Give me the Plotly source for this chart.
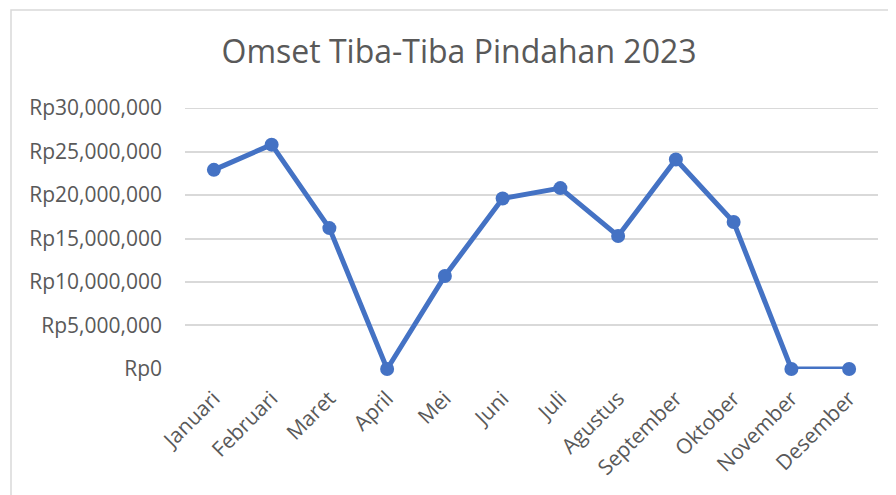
import plotly.graph_objects as go

months = ["Januari", "Februari", "Maret", "April", "Mei", "Juni", "Juli",
          "Agustus", "September", "Oktober", "November", "Desember"]
omset = [22900000, 25800000, 16200000, 0, 10700000, 19600000, 20800000,
         15300000, 24100000, 16900000, 0, 0]
y_ticks = [0, 5000000, 10000000, 15000000, 20000000, 25000000, 30000000]
y_tick_labels = ["Rp0", "Rp5,000,000", "Rp10,000,000", "Rp15,000,000",
                 "Rp20,000,000", "Rp25,000,000", "Rp30,000,000"]

# page has 8px body margin; figure occupies the rest of the 896x495 window
W, H = 888, 487
L, R, T, B = 177, 18, 100, 126
pw, ph = W - L - R, H - T - B

fig = go.Figure()
fig.add_trace(go.Scatter(
    x=months, y=omset, mode="lines+markers",
    line=dict(color="#4472C4", width=5),
    marker=dict(color="#4472C4", size=14),
    cliponaxis=False,
    hoverinfo="skip", showlegend=False,
))

font_family = "'Open Sans', sans-serif"
fig.update_layout(
    width=W, height=H,
    margin=dict(l=L, r=R, t=T, b=B),
    paper_bgcolor="white", plot_bgcolor="white",
    font=dict(family=font_family, color="#595959", size=21),
    title=dict(text="Omset Tiba-Tiba Pindahan 2023", x=(451 - L) / pw, xref="paper",
               xanchor="center", y=1 - 44 / H, yanchor="middle",
               font=dict(size=32, color="#595959", family=font_family)),
    xaxis=dict(type="category", showgrid=False, showline=False, ticks="",
               tickangle=-45, tickfont=dict(size=21, color="#595959"),
               ticklabelstandoff=12,
               range=[-0.5, 11.5], fixedrange=True),
    yaxis=dict(range=[-5000, 30015000], tickvals=y_ticks, ticktext=y_tick_labels,
               showgrid=True, gridcolor="#D9D9D9", gridwidth=1.5,
               zeroline=False, showline=False, ticks="",
               ticklabelstandoff=22,
               tickfont=dict(size=21, color="#595959"), fixedrange=True),
    shapes=[
        dict(type="rect", xref="paper", yref="paper",
             x0=(3 - L) / pw, x1=(W + 20 - L) / pw,
             y0=-(H + 20 - T - ph) / ph, y1=1 + (T - 2) / ph,
             line=dict(color="#D9D9D9", width=1.5), layer="below"),
        dict(type="line", xref="paper", yref="y", x0=0, x1=1,
             y0=y_ticks[-1], y1=y_ticks[-1],
             line=dict(color="#D9D9D9", width=1.5), layer="below"),
    ],
)

fig.write_html("out.html")
